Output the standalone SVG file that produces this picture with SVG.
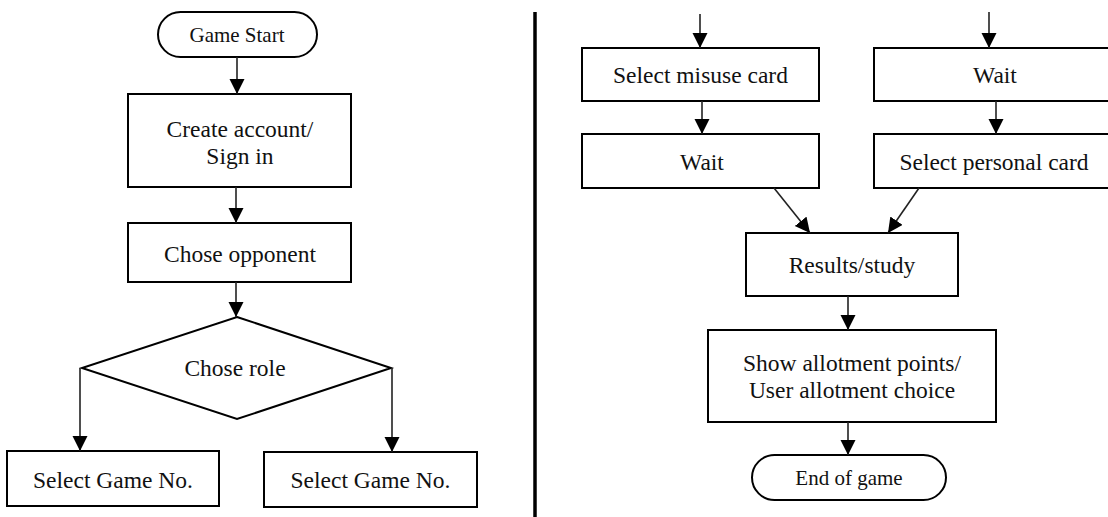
<svg xmlns="http://www.w3.org/2000/svg" width="1108" height="517" viewBox="0 0 1108 517">
  <style>
    .box { fill: #fff; stroke: #000; stroke-width: 2; }
    .lbl { font-family: "Liberation Serif", "Times New Roman", serif; font-size: 23.5px; fill: #111; text-anchor: middle; }
    .sm { font-size: 21px; }
    .edge { fill: none; stroke: #222; stroke-width: 1.6; marker-end: url(#arrow); }
    .plain { fill: none; stroke: #222; stroke-width: 1.6; }
  </style>
  <defs>
    <marker id="arrow" markerUnits="userSpaceOnUse" markerWidth="16" markerHeight="16" refX="15" refY="7.5" orient="auto">
      <path d="M0,0 L15,7.5 L0,15 z" fill="#000"/>
    </marker>
  </defs>
  <rect width="1108" height="517" fill="#fff"/>

  <!-- left half: login and role selection -->
  <g id="game-start">
    <rect class="box" x="158" y="12" width="159" height="45" rx="22.5" ry="22.5"/>
    <text class="lbl sm" x="237" y="42">Game Start</text>
  </g>
  <g id="create-account">
    <rect class="box" x="128" y="94" width="223" height="93"/>
    <text class="lbl" x="240" y="137">Create account/</text>
    <text class="lbl" x="240" y="164">Sign in</text>
  </g>
  <g id="chose-opponent">
    <rect class="box" x="128" y="223" width="223" height="59"/>
    <text class="lbl" x="240" y="262">Chose opponent</text>
  </g>
  <g id="chose-role">
    <polygon class="box" points="237,317 391,368 237,419 82,368"/>
    <text class="lbl" x="235" y="376">Chose role</text>
  </g>
  <g id="select-game-left">
    <rect class="box" x="7" y="451" width="212" height="55"/>
    <text class="lbl" x="113" y="488">Select Game No.</text>
  </g>
  <g id="select-game-right">
    <rect class="box" x="264" y="452" width="213" height="55"/>
    <text class="lbl" x="370.5" y="488">Select Game No.</text>
  </g>

  <!-- separator between the two halves -->
  <line id="divider" x1="535" y1="12" x2="535" y2="517" stroke="#000" stroke-width="3.5"/>

  <!-- right half: card play and results -->
  <g id="select-misuse-card">
    <rect class="box" x="582" y="48" width="237" height="53"/>
    <text class="lbl" x="700.5" y="83">Select misuse card</text>
  </g>
  <g id="wait-left">
    <rect class="box" x="582" y="134" width="237" height="54"/>
    <text class="lbl" x="702" y="170">Wait</text>
  </g>
  <g id="wait-right">
    <rect class="box" x="874" y="48" width="242" height="53"/>
    <text class="lbl" x="995" y="83">Wait</text>
  </g>
  <g id="select-personal-card">
    <rect class="box" x="874" y="134" width="242" height="54"/>
    <text class="lbl" x="994" y="170">Select personal card</text>
  </g>
  <g id="results-study">
    <rect class="box" x="746" y="233" width="212" height="63"/>
    <text class="lbl" x="852" y="273">Results/study</text>
  </g>
  <g id="allotment">
    <rect class="box" x="708" y="330" width="288" height="92"/>
    <text class="lbl" x="852" y="371">Show allotment points/</text>
    <text class="lbl" x="852" y="398">User allotment choice</text>
  </g>
  <g id="end-of-game">
    <rect class="box" x="752" y="455" width="194" height="45" rx="22.5" ry="22.5"/>
    <text class="lbl sm" x="849" y="485">End of game</text>
  </g>

  <g id="connectors">
    <line class="edge" x1="237" y1="57" x2="237" y2="94"/>
    <line class="edge" x1="236" y1="187" x2="236" y2="223"/>
    <line class="edge" x1="236" y1="282" x2="236" y2="317"/>
    <line class="edge" x1="80" y1="368" x2="80" y2="451"/>
    <line class="edge" x1="392" y1="368" x2="392" y2="452"/>

    <line class="edge" x1="700" y1="14" x2="700" y2="48"/>
    <line class="edge" x1="702" y1="101" x2="702" y2="134"/>
    <line class="edge" x1="989" y1="12" x2="989" y2="48"/>
    <line class="edge" x1="996" y1="101" x2="996" y2="134"/>
    <line class="edge" x1="774" y1="188" x2="810" y2="233"/>
    <line class="edge" x1="919" y1="188" x2="888" y2="233"/>
    <line class="edge" x1="848" y1="296" x2="848" y2="330"/>
    <line class="edge" x1="848" y1="422" x2="848" y2="455"/>
  </g>
</svg>
